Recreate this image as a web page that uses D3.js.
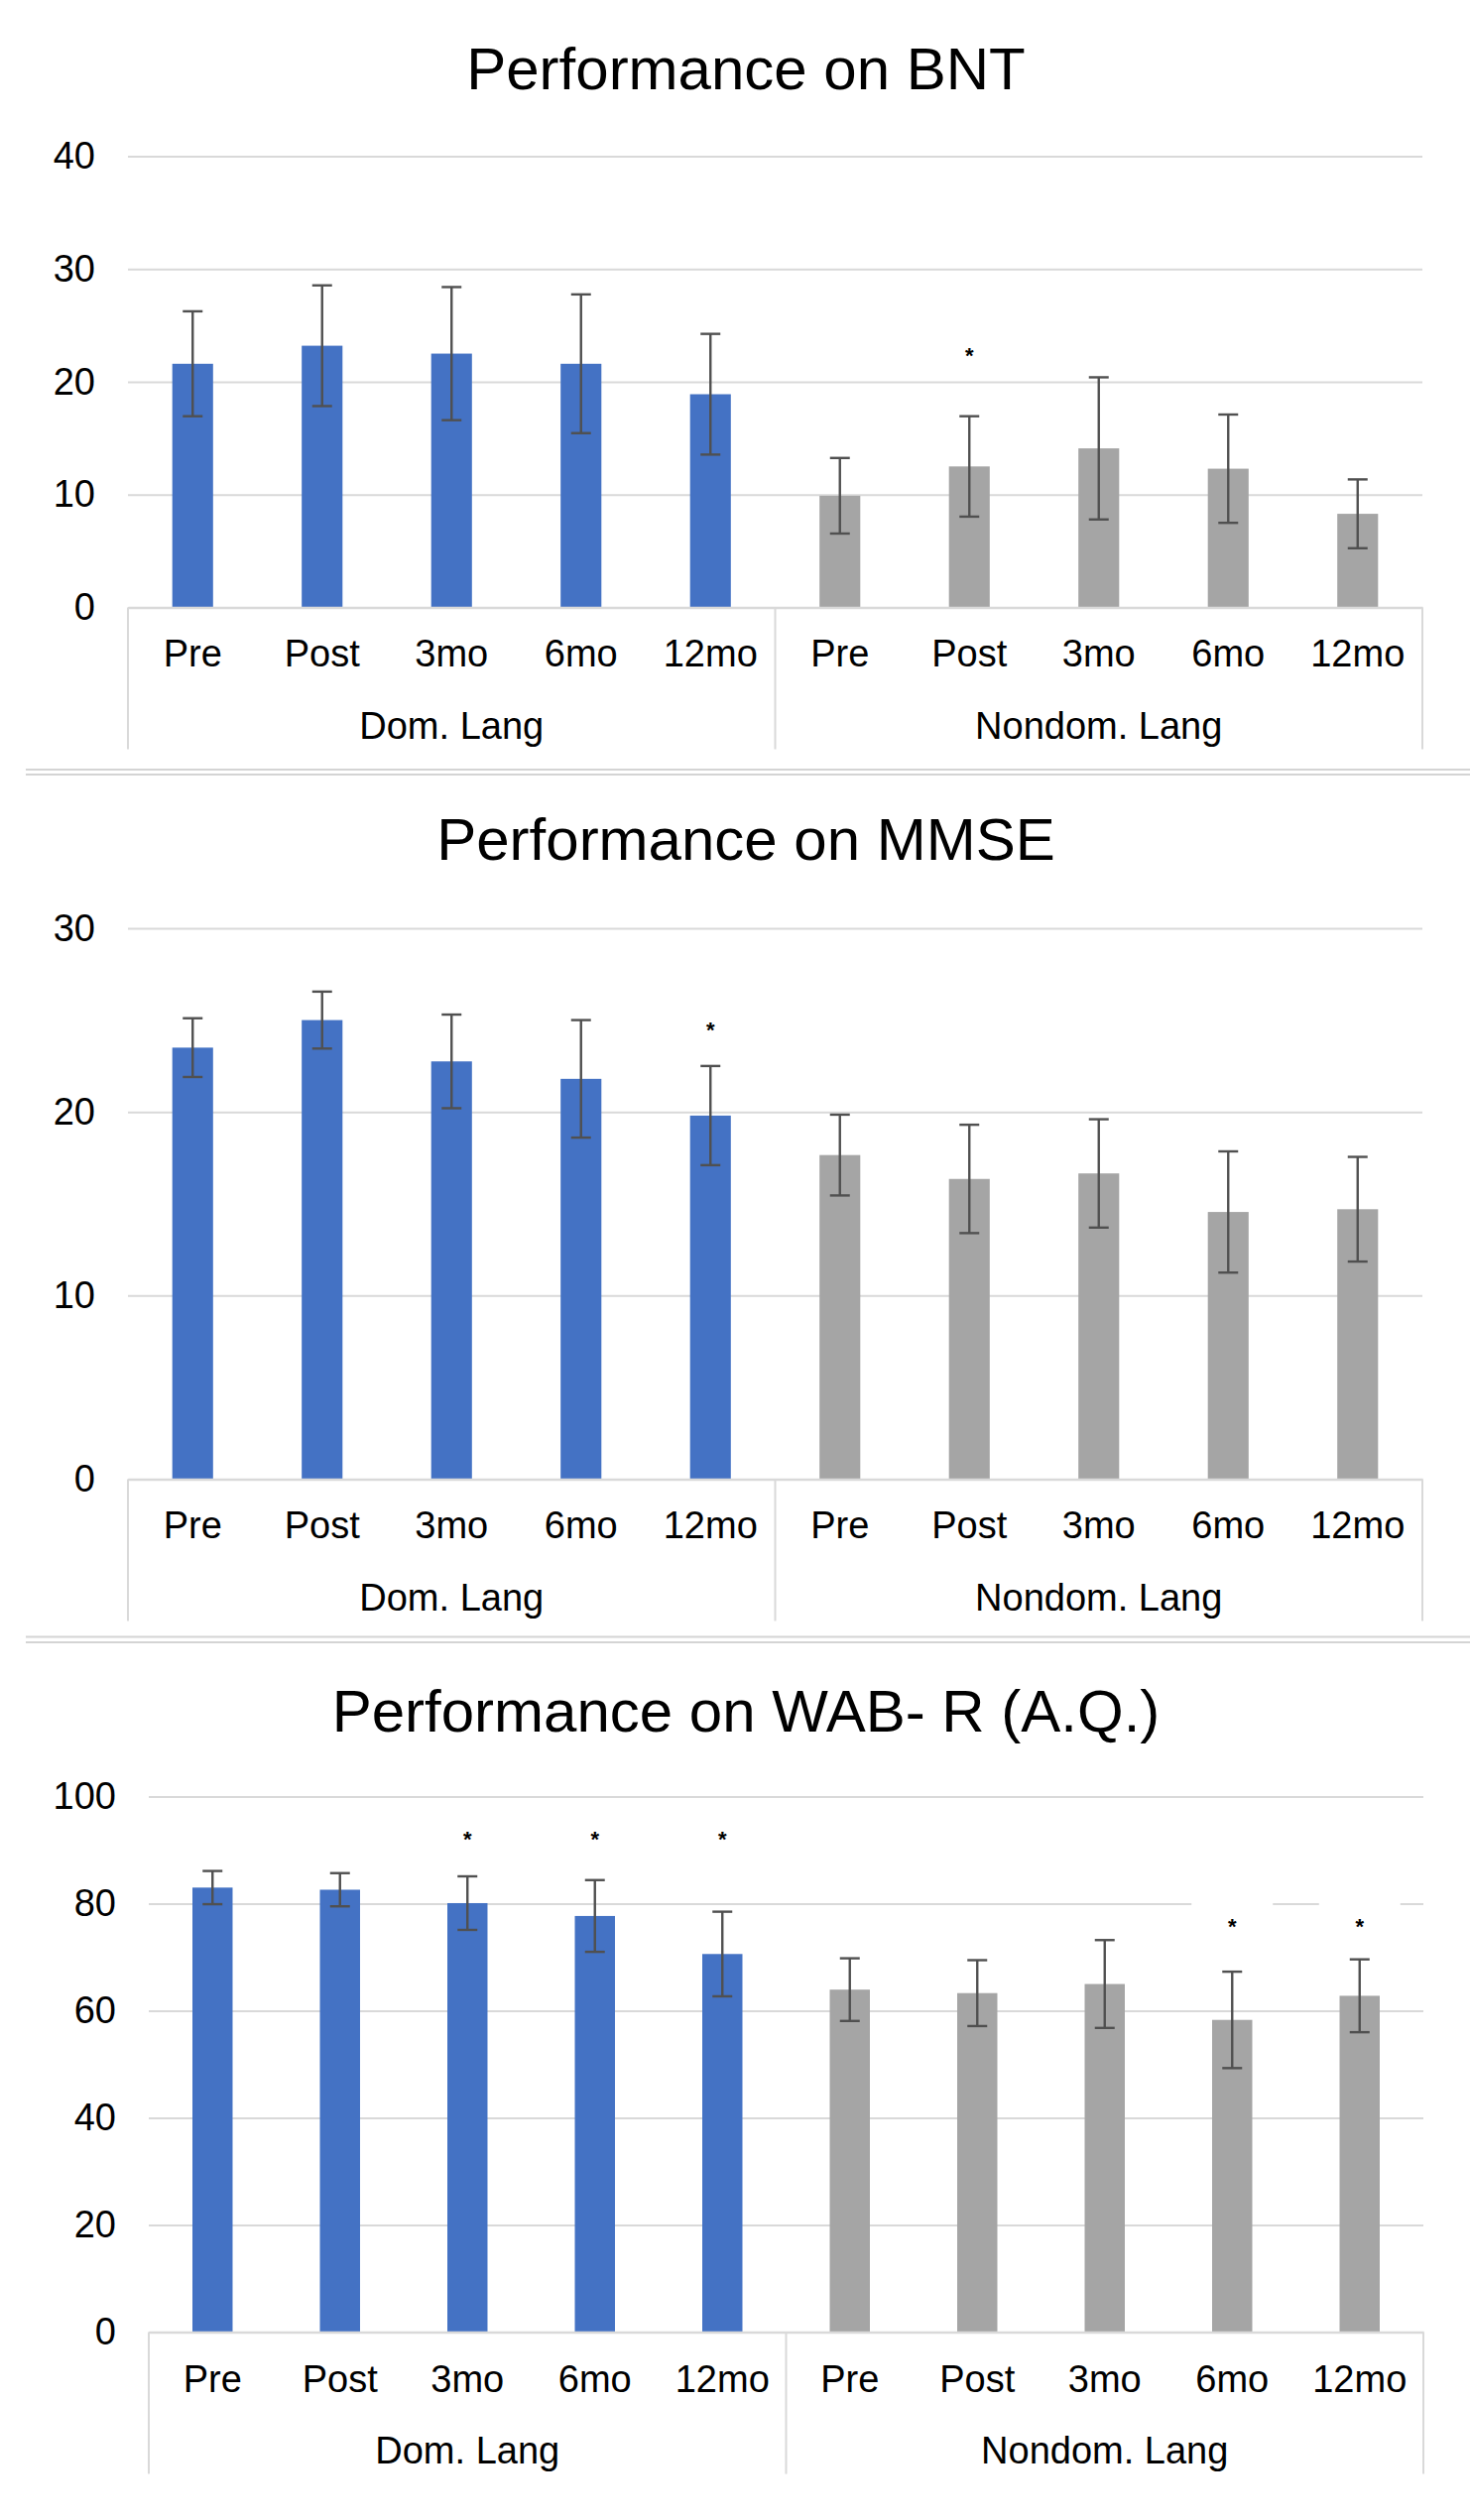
<!DOCTYPE html>
<html>
<head>
<meta charset="utf-8">
<script src="https://cdn.jsdelivr.net/npm/d3@7"></script>
<style>
  body { margin: 0; background: #fff; }
  text { font-family: "Liberation Sans", Arial, sans-serif; fill: #000; }
</style>
</head>
<body>
<div id="chart"></div>
<script>
// categories
const timepoints = ["Pre", "Post", "3mo", "6mo", "12mo"];
const groups = ["Dom. Lang", "Nondom. Lang"];

// BNT means and error (+/-)
const bntDom = [21.6, 23.2, 22.5, 21.6, 18.9];
const bntDomErr = [4.65, 5.35, 5.9, 6.15, 5.35];
const bntNondom = [9.9, 12.5, 14.1, 12.3, 8.3];
const bntNondomErr = [3.35, 4.45, 6.3, 4.8, 3.05];
const bntTicks = [0, 10, 20, 30, 40];

// MMSE
const mmseDom = [23.5, 25.0, 22.75, 21.8, 19.8];
const mmseDomErr = [1.6, 1.55, 2.55, 3.2, 2.7];
const mmseNondom = [17.65, 16.35, 16.65, 14.55, 14.7];
const mmseNondomErr = [2.2, 2.95, 2.95, 3.3, 2.85];
const mmseTicks = [0, 10, 20, 30];

// WAB-R (A.Q.)
const wabDom = [83.0, 82.6, 80.1, 77.7, 70.6];
const wabDomErr = [3.1, 3.1, 5.0, 6.7, 7.9];
const wabNondom = [63.95, 63.3, 65.0, 58.3, 62.8];
const wabNondomErr = [5.85, 6.15, 8.2, 9.0, 6.8];
const wabTicks = [0, 20, 40, 60, 80, 100];

// significance marks: group, timepoint, level in axis units
const bntStars = [{ group: "Nondom. Lang", tp: "Post", at: 22.7 }];
const mmseStars = [{ group: "Dom. Lang", tp: "12mo", at: 24.7 }];
const wabStars = [
  { group: "Dom. Lang", tp: "3mo", at: 92.8 },
  { group: "Dom. Lang", tp: "6mo", at: 92.8 },
  { group: "Dom. Lang", tp: "12mo", at: 92.8 },
  { group: "Nondom. Lang", tp: "6mo", at: 76.5 },
  { group: "Nondom. Lang", tp: "12mo", at: 76.5 }
];

const W = 1482, H = 2541;
const colors = { "Dom. Lang": "#4472C4", "Nondom. Lang": "#A5A5A5" };

const svg = d3.select("#chart").append("svg")
  .attr("width", W)
  .attr("height", H)
  .style("display", "block");

svg.append("rect").attr("width", W).attr("height", H).attr("fill", "#fff");

function rows(dom, domErr, nondom, nondomErr) {
  const out = [];
  timepoints.forEach((tp, i) => out.push({ group: groups[0], tp, value: dom[i], err: domErr[i] }));
  timepoints.forEach((tp, i) => out.push({ group: groups[1], tp, value: nondom[i], err: nondomErr[i] }));
  return out;
}

const panels = [
  { title: "Performance on BNT", data: rows(bntDom, bntDomErr, bntNondom, bntNondomErr),
    ticks: bntTicks, stars: bntStars, titleY: 90, top: 157.5, zero: 612.5, left: 129, right: 1434 },
  { title: "Performance on MMSE", data: rows(mmseDom, mmseDomErr, mmseNondom, mmseNondomErr),
    ticks: mmseTicks, stars: mmseStars, titleY: 867, top: 936, zero: 1491.5, left: 129, right: 1434 },
  { title: "Performance on WAB- R (A.Q.)", data: rows(wabDom, wabDomErr, wabNondom, wabNondomErr),
    ticks: wabTicks, stars: wabStars, titleY: 1746, top: 1811.5, zero: 2351.6, left: 150, right: 1435 }
];

const key = d => d.group + "|" + d.tp;

panels.forEach(p => {
  const g = svg.append("g");

  const y = d3.scaleLinear()
    .domain([0, d3.max(p.ticks)])
    .range([p.zero, p.top]);

  const x = d3.scaleBand()
    .domain(p.data.map(key))
    .range([p.left, p.right])
    .paddingInner(0.685)
    .paddingOuter(0.3425);

  // title
  g.append("text")
    .attr("x", 752)
    .attr("y", p.titleY)
    .attr("text-anchor", "middle")
    .style("font-size", "60px")
    .text(p.title);

  // y axis + gridlines
  const yAxis = g.append("g")
    .attr("transform", `translate(${p.left},0)`)
    .call(d3.axisLeft(y).tickValues(p.ticks).tickSize(-(p.right - p.left)).tickPadding(33));
  yAxis.select(".domain").remove();
  yAxis.selectAll(".tick line").attr("stroke", "#D9D9D9").attr("stroke-width", 2);
  yAxis.selectAll(".tick text")
    .attr("fill", "#000")
    .style("font-size", "38px")
    .style("font-family", "'Liberation Sans', Arial, sans-serif");

  // bars
  g.append("g")
    .selectAll("rect")
    .data(p.data)
    .join("rect")
    .attr("x", d => x(key(d)))
    .attr("width", x.bandwidth())
    .attr("y", d => y(d.value))
    .attr("height", d => y(0) - y(d.value))
    .attr("fill", d => colors[d.group]);

  // error bars
  const capW = 20;
  const eb = g.append("g")
    .attr("stroke", "#505050")
    .attr("stroke-width", 2.4)
    .selectAll("g")
    .data(p.data)
    .join("g")
    .attr("transform", d => `translate(${x(key(d)) + x.bandwidth() / 2},0)`);
  eb.append("line")
    .attr("y1", d => y(d.value + d.err))
    .attr("y2", d => y(d.value - d.err));
  eb.append("line")
    .attr("x1", -capW / 2).attr("x2", capW / 2)
    .attr("y1", d => y(d.value + d.err)).attr("y2", d => y(d.value + d.err));
  eb.append("line")
    .attr("x1", -capW / 2).attr("x2", capW / 2)
    .attr("y1", d => y(d.value - d.err)).attr("y2", d => y(d.value - d.err));

  // significance marks (text boxes with white fill)
  const st = g.append("g")
    .selectAll("g")
    .data(p.stars)
    .join("g")
    .attr("transform", d => `translate(${x(key(d)) + x.bandwidth() / 2},${y(d.at)})`);
  st.append("rect")
    .attr("x", -41).attr("width", 82)
    .attr("y", -22).attr("height", 36)
    .attr("fill", "#fff");
  st.append("text")
    .attr("text-anchor", "middle")
    .attr("y", 12)
    .style("font-size", "22px")
    .style("font-weight", "bold")
    .text("*");

  // category axis
  const xAxis = g.append("g")
    .attr("transform", `translate(0,${p.zero})`)
    .call(d3.axisBottom(x).tickSize(0).tickPadding(33).tickFormat(k => k.split("|")[1]));
  xAxis.select(".domain").attr("stroke", "#D9D9D9").attr("stroke-width", 2.5);
  xAxis.selectAll(".tick text")
    .attr("fill", "#000")
    .style("font-size", "38px")
    .style("font-family", "'Liberation Sans', Arial, sans-serif");

  // group boxes and labels
  const boxBottom = p.zero + 143;
  const mid = (x(key({ group: groups[0], tp: "12mo" })) + x.bandwidth() + x(key({ group: groups[1], tp: "Pre" }))) / 2;
  const bounds = [p.left, mid, p.right];
  g.append("g")
    .selectAll("line")
    .data(bounds)
    .join("line")
    .attr("x1", d => d).attr("x2", d => d)
    .attr("y1", p.zero).attr("y2", boxBottom)
    .attr("stroke", "#D9D9D9")
    .attr("stroke-width", 2);
  g.append("g")
    .selectAll("text")
    .data(groups)
    .join("text")
    .attr("x", (d, i) => (bounds[i] + bounds[i + 1]) / 2)
    .attr("y", p.zero + 132)
    .attr("text-anchor", "middle")
    .style("font-size", "38px")
    .text(d => d);
});

// double separator lines between panels
const seps = [776, 781, 1650.5, 1656];
svg.append("g")
  .selectAll("line")
  .data(seps)
  .join("line")
  .attr("x1", 26).attr("x2", W)
  .attr("y1", d => d).attr("y2", d => d)
  .attr("stroke", "#D4D4D4")
  .attr("stroke-width", 2);
</script>
</body>
</html>
